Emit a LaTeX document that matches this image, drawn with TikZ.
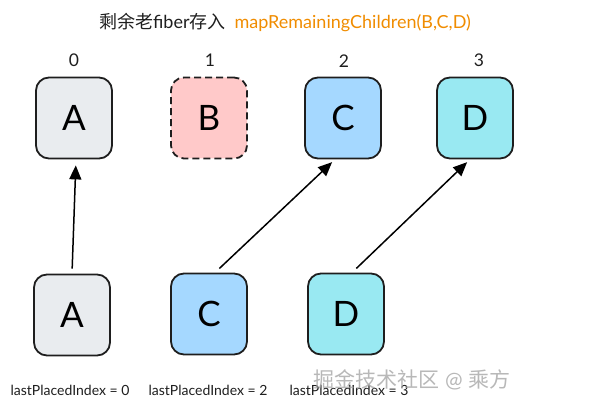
\documentclass[tikz,border=0pt]{standalone}
\usepackage{fontspec}
\setmainfont{Lato}
\newfontfamily\cjk{Noto Sans CJK SC}
\usetikzlibrary{arrows.meta}
\definecolor{ink}{HTML}{1E1E1E}
\definecolor{fgray}{HTML}{E9ECEF}
\definecolor{fpink}{HTML}{FFC9C9}
\definecolor{fblue}{HTML}{A5D8FF}
\definecolor{fcyan}{HTML}{99E9F2}
\definecolor{orng}{HTML}{F08C00}
\tikzset{
  >={Triangle[length=14pt,width=12pt]},
  fb/.style={draw=ink,rounded corners=13pt,minimum width=76pt,minimum height=81pt,
    line width=1.8pt,inner sep=0pt,font=\fontsize{35}{35}\selectfont},
  idx/.style={font=\fontsize{17.5}{17.5}\selectfont,text=ink},
  lpi/.style={font=\fontsize{14}{15}\selectfont,text=ink},
  every picture/.style={line width=1.5pt},
}
\begin{document}
\begin{tikzpicture}[x=1pt,y=-1pt]
\useasboundingbox (0,0) rectangle (589,409);
\node[font=\fontsize{18}{18}\selectfont,text=ink] (title) at (285,22)
  {{\cjk 剩余老}fiber{\cjk 存入}\hspace{9pt}\textcolor{orng}{mapRemainingChildren(B,C,D)}};
% old fibers
\node[idx] (i0) at (74,60){0}; \node[idx] (i1) at (210,60){1};
\node[idx] (i2) at (344,61){2}; \node[idx] (i3) at (479,60){3};
\node[fb,fill=fgray] (At) at (74,118){A}; \node[fb,fill=fpink,dashed,dash pattern=on 7pt off 4pt] (Bt) at (209,118){B};
\node[fb,fill=fblue] (Ct) at (343,118){C}; \node[fb,fill=fcyan] (Dt) at (475,118){D};
% new fibers
\node[fb,fill=fgray] (Ab) at (72,315){A}; \node[fb,fill=fblue] (Cb) at (209,314){C};
\node[fb,fill=fcyan] (Db) at (346,314){D};
\node[lpi] (l0) at (70,390){lastPlacedIndex = 0}; \node[lpi] (l1) at (208,390){lastPlacedIndex = 2};
\node[lpi] (l2) at (349,390){lastPlacedIndex = 3};
\draw[->,shorten <=5pt,shorten >=6pt] (Ab.north) -- ([xshift=2pt]At.south);
\draw[->,shorten <=6pt,shorten >=4pt] ([xshift=6pt]Cb.north) -- ([xshift=-8pt]Ct.south);
\draw[->,shorten <=6pt,shorten >=4pt] ([xshift=6pt]Db.north) -- ([xshift=-5pt]Dt.south);
\node[font=\fontsize{21}{21}\selectfont,text=gray!70,opacity=0.8] (wm) at (412,380)
  {{\cjk 掘金技术社区} @ {\cjk 乘方}};
\end{tikzpicture}
\end{document}
